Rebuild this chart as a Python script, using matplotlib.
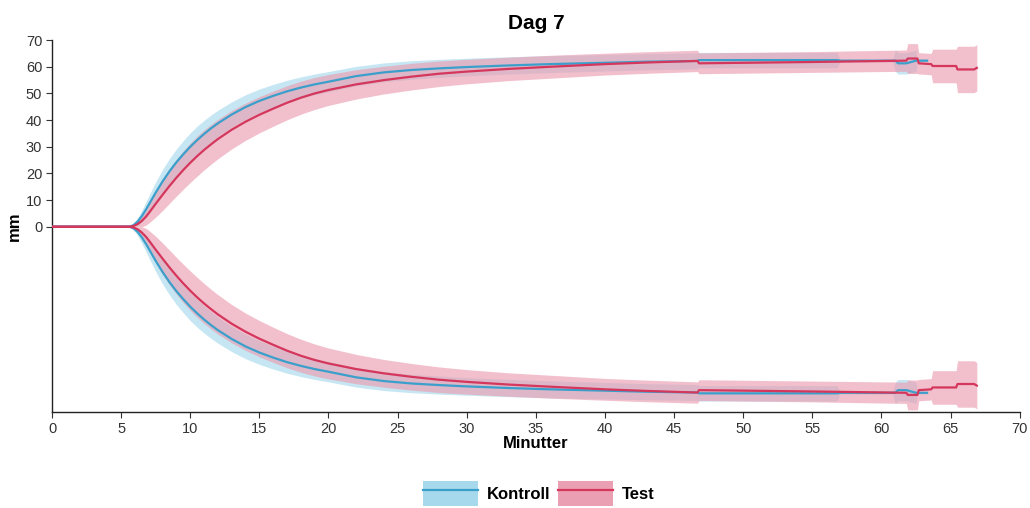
import matplotlib
matplotlib.use("Agg")
import matplotlib.pyplot as plt
from matplotlib.patches import Patch
from matplotlib.lines import Line2D
import numpy as np

plt.rcParams["font.family"] = ["Liberation Sans", "DejaVu Sans"]

# Kontroll: time (min), mean amplitude (mm), band half-width (mm)
kontroll_t = [0, 5.6, 5.9, 6.2, 6.5, 6.8, 7.1, 7.5, 8.0, 8.5,
              9.0, 9.5, 10, 10.5, 11, 11.5, 12, 13, 14, 15,
              16, 17, 18, 19, 20, 22, 24, 26, 28, 30,
              33, 36, 40, 43, 46.7, 46.8, 56.8, 57.0, 60.8, 61.0,
              61.2, 61.8, 62.5, 62.6, 63.3]
kontroll_mean = [0, 0, 0.6, 2.0, 4.0, 6.5, 9.2, 12.8, 17.0, 20.8,
                 24.2, 27.2, 30.0, 32.5, 34.8, 36.9, 38.8, 42.1, 44.9, 47.2,
                 49.1, 50.8, 52.2, 53.4, 54.4, 56.5, 57.9, 58.8, 59.4, 59.9,
                 60.5, 61.0, 61.5, 61.9, 62.2, 62.5, 62.5, 62.3, 62.3, 62.3,
                 61.3, 61.3, 62.3, 62.3, 62.3]
kontroll_sd = [0, 0, 0.6, 1.4, 2.2, 2.9, 3.4, 4.0, 4.5, 4.8,
               5.0, 5.1, 5.2, 5.2, 5.1, 5.0, 4.9, 4.75, 4.6, 4.45,
               4.3, 4.15, 4.0, 3.9, 3.8, 3.65, 3.55, 3.45, 3.4, 3.3,
               3.25, 3.2, 3.1, 3.05, 3.0, 2.9, 2.9, 0.5, 0.5, 4.0,
               4.0, 4.0, 4.0, 0.5, 0.5]

# Test
test_t = [0, 5.6, 5.9, 6.2, 6.5, 6.8, 7.1, 7.5, 8.0, 8.5,
          9.0, 9.5, 10, 10.5, 11, 11.5, 12, 13, 14, 15,
          16, 17, 18, 19, 20, 22, 24, 26, 28, 30,
          33, 36, 40, 43, 46.7, 46.8, 55.0, 61.8, 61.9, 62.6,
          62.7, 63.6, 63.7, 65.4, 65.5, 66.7, 66.9]
test_mean = [0, 0, 0.3, 1.0, 2.2, 3.8, 5.8, 8.6, 12.0, 15.3,
             18.4, 21.3, 24.0, 26.5, 28.8, 30.9, 32.9, 36.4, 39.4, 42.0,
             44.3, 46.5, 48.4, 50.0, 51.3, 53.4, 55.0, 56.3, 57.4, 58.2,
             59.2, 60.0, 61.0, 61.6, 62.2, 61.3, 61.8, 62.3, 63.1, 63.1,
             61.3, 61.0, 60.3, 60.3, 59.0, 59.0, 59.6]
test_sd = [0, 0, 0.4, 1.0, 2.2, 3.2, 4.0, 5.0, 5.9, 6.5,
           6.9, 7.2, 7.4, 7.5, 7.5, 7.45, 7.4, 7.2, 7.0, 6.8,
           6.6, 6.4, 6.2, 6.0, 5.8, 5.5, 5.2, 5.0, 4.8, 4.6,
           4.4, 4.3, 4.1, 4.05, 4.0, 3.9, 3.9, 4.0, 5.6, 5.6,
           4.0, 4.0, 6.3, 6.3, 8.7, 8.7, 8.7]

groups = [
    ("Kontroll", kontroll_t, kontroll_mean, kontroll_sd, "#a6d9ec", "#3b9fcb"),
    ("Test", test_t, test_mean, test_sd, "#eb9fb2", "#d5365c"),
]

fig = plt.figure(figsize=(10.3, 5.08), dpi=100)
ax = fig.add_axes([0.0505, 0.189, 0.9395, 0.732])

# bands first, mirrored around zero
for name, t, m, s, band, line in groups:
    t = np.array(t); m = np.array(m); s = np.array(s)
    for sign in (1, -1):
        ax.fill_between(t, sign * (m - s), sign * (m + s), color=band, alpha=0.65,
                        linewidth=0, zorder=1)
for name, t, m, s, band, line in groups:
    t = np.array(t); m = np.array(m)
    for sign in (1, -1):
        ax.plot(t, sign * m, color=line, linewidth=1.6, zorder=3)

ax.set_xlim(0, 70)
ax.set_ylim(-69.5, 70)
ax.set_xticks(range(0, 71, 5))
ax.set_yticks(range(0, 71, 10))
ax.tick_params(labelsize=10.5, colors="#333333", length=4, width=0.8, pad=3)
for side in ("top", "right"):
    ax.spines[side].set_visible(False)
for side in ("left", "bottom"):
    ax.spines[side].set_color("#222222")
    ax.spines[side].set_linewidth(1.0)

ax.set_title("Dag 7", fontsize=15, fontweight="bold", pad=8)
ax.set_xlabel("Minutter", fontsize=12, fontweight="bold", labelpad=0)
ax.set_ylabel("mm", fontsize=12, fontweight="bold", labelpad=3)

handles = [(Patch(facecolor=band, edgecolor="none"), Line2D([], [], color=line, linewidth=1.6))
           for _, _, _, _, band, line in groups]
labels = [g[0] for g in groups]
fig.legend(handles, labels, loc="center", bbox_to_anchor=(0.523, 0.028), ncol=2,
           frameon=False, handlelength=3.3, handleheight=1.9, columnspacing=0.5,
           handletextpad=0.5, prop={"size": 12, "weight": "bold"})

fig.savefig("out.png", dpi=100)
